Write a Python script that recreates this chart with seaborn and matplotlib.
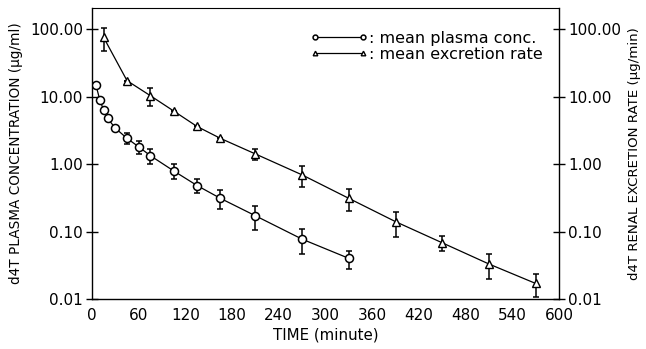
import numpy as np
import pandas as pd
import matplotlib
matplotlib.use("Agg")
import matplotlib.pyplot as plt
import seaborn as sns
from matplotlib.ticker import FixedLocator, FixedFormatter, NullLocator

# ---- data ----
plasma_time = [5, 10, 15, 20, 30, 45, 60, 75, 105, 135, 165, 210, 270, 330]
plasma_conc = [15.0, 8.9, 6.3, 4.75, 3.4, 2.4, 1.8, 1.33, 0.79, 0.48, 0.31, 0.171, 0.077, 0.040]
plasma_sd = [0.8, 0, 0, 0, 0, 0.45, 0.41, 0.34, 0.20, 0.11, 0.097, 0.064, 0.031, 0.012]

excr_time = [15, 45, 75, 105, 135, 165, 210, 270, 330, 390, 450, 510, 570]
excr_rate = [75.0, 17.2, 10.3, 6.1, 3.6, 2.4, 1.41, 0.69, 0.31, 0.14, 0.068, 0.033, 0.017]
excr_sd = [27.0, 0, 3.0, 0, 0, 0, 0.26, 0.23, 0.11, 0.057, 0.017, 0.0134, 0.0064]

x_ticks = [0, 60, 120, 180, 240, 300, 360, 420, 480, 540, 600]
y_ticks = [0.01, 0.1, 1, 10, 100]
y_tick_labels = ["0.01", "0.10", "1.00", "10.00", "100.00"]

plasma_label = ": mean plasma conc."
excr_label = ": mean excretion rate"
x_label = "TIME (minute)"
yl_label = "d4T PLASMA CONCENTRATION (\u03bcg/ml)"
yr_label = "d4T RENAL EXCRETION RATE (\u03bcg/min)"

df_p = pd.DataFrame({"t": plasma_time, "v": plasma_conc, "sd": plasma_sd})
df_e = pd.DataFrame({"t": excr_time, "v": excr_rate, "sd": excr_sd})

sns.set_theme(style="white")
plt.rcParams["font.family"] = ["DejaVu Sans"]

fig = plt.figure(figsize=(6.46, 3.49), dpi=100)
ax = fig.add_axes([0.1424, 0.1433, 0.8653 - 0.1424, 0.977 - 0.1433])

lw = 0.9
# error bars
ax.errorbar(df_p["t"], df_p["v"], yerr=df_p["sd"], fmt="none", ecolor="black",
            elinewidth=1.1, capsize=2.2, capthick=1.1, zorder=2)
ax.errorbar(df_e["t"], df_e["v"], yerr=df_e["sd"], fmt="none", ecolor="black",
            elinewidth=1.1, capsize=2.2, capthick=1.1, zorder=2)

sns.lineplot(data=df_p, x="t", y="v", ax=ax, color="black", linewidth=lw,
             marker="o", markersize=5.8, markerfacecolor="white",
             markeredgecolor="black", markeredgewidth=1.1, label=plasma_label, zorder=3)
sns.lineplot(data=df_e, x="t", y="v", ax=ax, color="black", linewidth=lw,
             marker="^", markersize=5.5, markerfacecolor="white",
             markeredgecolor="black", markeredgewidth=1.0, label=excr_label, zorder=3)

ax.set_yscale("log")
ax.set_xlim(0, 600)
ax.set_ylim(0.01, 205)
ax.xaxis.set_major_locator(FixedLocator(x_ticks))
ax.set_xticklabels([str(v) for v in x_ticks])
ax.yaxis.set_major_locator(FixedLocator(y_ticks))
ax.yaxis.set_major_formatter(FixedFormatter(y_tick_labels))
ax.yaxis.set_minor_locator(NullLocator())

for s in ax.spines.values():
    s.set_color("black")
    s.set_linewidth(1.0)
ax.spines["top"].set_linewidth(0.8)

ax.tick_params(axis="both", which="major", direction="inout", length=9, width=1.0,
               color="black", labelsize=11, labelcolor="black", pad=2)
ax.set_xlabel(x_label, fontsize=10.8, labelpad=3, color="black")
ax.set_ylabel(yl_label, fontsize=9.8, labelpad=5, color="black")

ax2 = ax.twinx()
ax2.set_yscale("log")
ax2.set_ylim(ax.get_ylim())
ax2.yaxis.set_major_locator(FixedLocator(y_ticks))
ax2.yaxis.set_major_formatter(FixedFormatter(y_tick_labels))
ax2.yaxis.set_minor_locator(NullLocator())
ax2.tick_params(axis="y", which="major", direction="inout", length=9, width=1.0,
                color="black", labelsize=11, labelcolor="black", pad=2)
ax2.set_ylabel(yr_label, fontsize=9.6, labelpad=5, color="black")
for s in ax2.spines.values():
    s.set_visible(False)
ax.spines["right"].set_visible(True)

leg = ax.legend(loc="upper right", bbox_to_anchor=(0.985, 0.955), frameon=False,
                numpoints=2, handlelength=3.6, handletextpad=0.05, markerscale=0.6,
                fontsize=11.5, labelspacing=0.05, borderaxespad=0.2)
for t in leg.get_texts():
    t.set_color("black")

fig.savefig("out.png", dpi=100)
